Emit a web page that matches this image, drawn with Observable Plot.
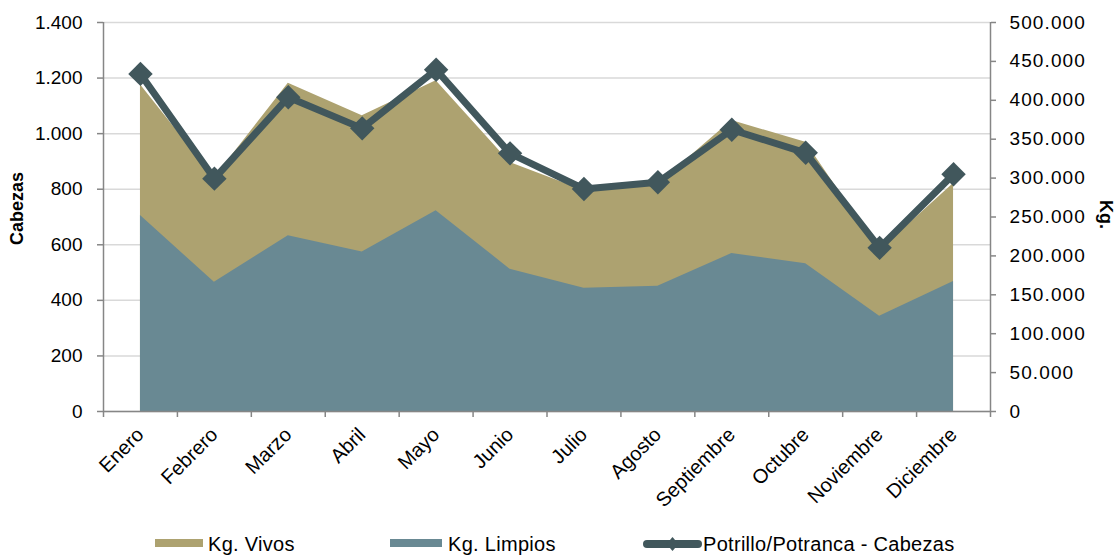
<!DOCTYPE html>
<html><head><meta charset="utf-8">
<script src="https://cdn.jsdelivr.net/npm/d3@7"></script>
<script src="https://cdn.jsdelivr.net/npm/@observablehq/plot@0.6"></script>
<style>
body{margin:0;background:#fff;font-family:"Liberation Sans",Arial,sans-serif;}
#chart{width:1116px;height:555px;overflow:hidden;}
svg{display:block}
g[aria-label="y-axis tick label"][text-anchor="start"]{letter-spacing:1.1px}
</style></head><body><div id="chart"></div>
<script>
const months = ["Enero","Febrero","Marzo","Abril","Mayo","Junio","Julio","Agosto","Septiembre","Octubre","Noviembre","Diciembre"];
const cabezas = [1215, 838, 1131, 1019, 1230, 929, 801, 825, 1014, 931, 589, 854];
const kgVivos = [420000, 300000, 422000, 380000, 425000, 320000, 284000, 292000, 374000, 346000, 207000, 293000];
const kgLimpios = [252000, 166000, 226000, 205000, 258000, 183000, 158500, 161000, 203000, 190000, 122500, 167000];
const leftTicks = [0, 200, 400, 600, 800, 1000, 1200, 1400];
const rightTicksKg = [0, 50000, 100000, 150000, 200000, 250000, 300000, 350000, 400000, 450000, 500000];

const colVivos = "#ada270", colLimpios = "#698993", colLine = "#41575c", colAxis = "#868686";
const K = 1400 / 500000; // right-axis kg mapped onto left-axis scale
const data = months.map((m, i) => ({i, m, cab: cabezas[i], vivos: kgVivos[i] * K, limpios: kgLimpios[i] * K}));
const loc = d3.formatLocale({decimal: ",", thousands: ".", grouping: [3], currency: ["", ""]});
const fmt = loc.format(",");
const bounds = d3.range(0, 13).map(v => v - 0.5);

const plot = Plot.plot({
  width: 1116, height: 530,
  marginLeft: 103, marginRight: 126, marginTop: 22, marginBottom: 119,
  style: {fontFamily: "Liberation Sans, Arial, sans-serif", fontSize: "19px", color: "#000", background: "#fff"},
  x: {type: "linear", domain: [-0.5, 11.5]},
  y: {domain: [0, 1400]},
  marks: [
    Plot.gridY(leftTicks, {stroke: "#d9d9d9", strokeOpacity: 1, strokeWidth: 1.5}),
    Plot.areaY(data, {x: "i", y: "vivos", fill: colVivos}),
    Plot.areaY(data, {x: "i", y: "limpios", fill: colLimpios}),
    Plot.ruleY([0], {stroke: colAxis, strokeWidth: 1.5}),
    Plot.ruleX([-0.5, 11.5], {stroke: colAxis, strokeWidth: 1.5}),
    Plot.axisX(bounds, {tickSize: 6, tickFormat: () => "", fill: "none", stroke: colAxis, strokeWidth: 1.5, label: null}),
    Plot.axisY(leftTicks, {anchor: "left", tickSize: 6, tickPadding: 15, tickFormat: fmt, stroke: colAxis, fill: "#000", strokeWidth: 1.5, label: null, fontSize: 19}),
    Plot.axisY(rightTicksKg.map(v => v * K), {anchor: "right", tickSize: 5, tickPadding: 14, tickFormat: v => fmt(Math.round(v / K)), stroke: colAxis, fill: "#000", strokeWidth: 1.5, label: null, fontSize: 19}),
    Plot.line(data, {x: "i", y: "cab", stroke: colLine, strokeWidth: 7}),
    Plot.dot(data, {x: "i", y: "cab", symbol: "diamond2", r: 11, fill: colLine, stroke: null}),
    Plot.text(months, {x: (d, i) => i, text: d => d, frameAnchor: "bottom", rotate: -45, textAnchor: "end", lineAnchor: "bottom", dx: 4.5, dy: 24.5, fontSize: 20, fill: "#000"}),
    Plot.text(["Cabezas"], {text: d => d, frameAnchor: "left", textAnchor: "middle", dx: -86, dy: -8.5, rotate: -90, fontWeight: "bold", fontSize: 18, fill: "#000"}),
    Plot.text(["Kg."], {text: d => d, frameAnchor: "right", textAnchor: "middle", dx: 115, dy: -2.5, rotate: 90, fontWeight: "bold", fontSize: 18, fill: "#000"})
  ]
});
const chart = document.getElementById("chart");
chart.appendChild(plot);

// legend below the plot
const legendItems = [
  {label: "Kg. Vivos", type: "rect", color: colVivos, x0: 155, x1: 203, tx: 208},
  {label: "Kg. Limpios", type: "rect", color: colLimpios, x0: 390, x1: 442, tx: 448},
  {label: "Potrillo/Potranca - Cabezas", type: "line", color: colLine, x0: 647, x1: 698, tx: 703}
];
const lg = d3.create("svg").attr("width", 1116).attr("height", 25)
  .style("font-family", "Liberation Sans, Arial, sans-serif");
for (const it of legendItems) {
  if (it.type === "rect") {
    lg.append("rect").attr("x", it.x0).attr("y", 9).attr("width", it.x1 - it.x0).attr("height", 8).attr("fill", it.color);
  } else {
    lg.append("line").attr("x1", it.x0).attr("x2", it.x1).attr("y1", 14).attr("y2", 14)
      .attr("stroke", it.color).attr("stroke-width", 8).attr("stroke-linecap", "round");
    const cx = (it.x0 + it.x1) / 2;
    lg.append("path").attr("d", `M${cx},7L${cx + 6},14L${cx},21L${cx - 6},14Z`).attr("fill", it.color);
  }
  lg.append("text").attr("x", it.tx).attr("y", 21).attr("font-size", 20).attr("letter-spacing", 0.3)
    .attr("fill", "#000").text(it.label);
}
chart.appendChild(lg.node());
</script></body></html>
